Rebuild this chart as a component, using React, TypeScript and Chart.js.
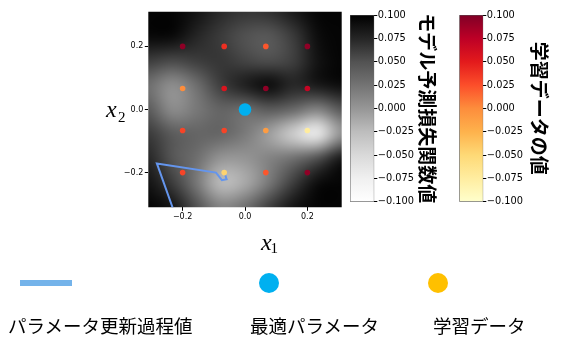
import React, { useEffect, useRef } from "react";
import { Chart, registerables } from "chart.js";

Chart.register(...registerables);

// ---------- data ----------
const axisTicks = [-0.2, 0.0, 0.2];
const colorbarTicks = [-0.1, -0.075, -0.05, -0.025, 0, 0.025, 0.05, 0.075, 0.1];

// loss surface grid (model prediction loss), rows from top (x2 = 0.31) to bottom (x2 = -0.31)
const heatX = [-0.31, -0.2325, -0.155, -0.0775, 0, 0.0775, 0.155, 0.2325, 0.31];
const heatY = [0.31, 0.2325, 0.155, 0.0775, 0, -0.0775, -0.155, -0.2325, -0.31];
const lossGrid = [
  [0.097, 0.097, 0.088, 0.073, 0.066, 0.069, 0.083, 0.097, 0.097],
  [0.095, 0.095, 0.075, 0.062, 0.049, 0.044, 0.062, 0.092, 0.097],
  [0.062, 0.055, 0.062, 0.066, 0.057, 0.051, 0.060, 0.088, 0.097],
  [0.027, 0.003, 0.027, 0.062, 0.082, 0.095, 0.075, 0.086, 0.093],
  [0.044, 0.005, 0.021, 0.036, 0.029, 0.044, 0.034, 0.012, 0.046],
  [0.064, 0.044, 0.036, 0.036, 0.021, -0.008, -0.046, -0.085, 0.0],
  [0.075, 0.046, 0.029, 0.0, 0.0, 0.014, 0.029, 0.053, 0.088],
  [0.088, 0.062, 0.021, -0.028, -0.015, 0.021, 0.062, 0.093, 0.097],
  [0.097, 0.088, 0.051, 0.014, 0.029, 0.062, 0.088, 0.097, 0.097],
];

// training data
const trainX = [-0.2, -0.0667, 0.0667, 0.2, -0.2, -0.0667, 0.0667, 0.2, -0.2, -0.0667, 0.0667, 0.2, -0.2, -0.0667, 0.0667, 0.2];
const trainY = [0.2, 0.2, 0.2, 0.2, 0.0667, 0.0667, 0.0667, 0.0667, -0.0667, -0.0667, -0.0667, -0.0667, -0.2, -0.2, -0.2, -0.2];
const trainV = [0.094, 0.04, 0.022, 0.094, 0.0, 0.056, 0.094, 0.07, 0.03, 0.03, -0.01, -0.074, 0.03, -0.046, 0.022, 0.094];

// optimal parameter
const optX = [0.0];
const optY = [0.0];

// parameter update path
const pathX = [-0.2, -0.2825, -0.093, -0.074, -0.059, -0.063];
const pathY = [-0.4, -0.171, -0.2, -0.224, -0.221, -0.209];

const legendLabels = ["パラメータ更新過程値", "最適パラメータ", "学習データ"];
const cbTitles = ["モデル予測損失関数値", "学習データの値"];

// ---------- colormaps ----------
const GREYS = ["#ffffff", "#f0f0f0", "#d9d9d9", "#bdbdbd", "#969696", "#737373", "#525252", "#252525", "#000000"];
const YLORRD = ["#ffffcc", "#ffeda0", "#fed976", "#feb24c", "#fd8d3c", "#fc4e2a", "#e31a1c", "#bd0026", "#800026"];
const VMIN = -0.1, VMAX = 0.1;

function hexToRgb(h: string) {
  return [parseInt(h.slice(1, 3), 16), parseInt(h.slice(3, 5), 16), parseInt(h.slice(5, 7), 16)];
}
function cmap(stops: string[], v: number) {
  let t = (v - VMIN) / (VMAX - VMIN);
  t = Math.max(0, Math.min(1, t));
  const p = t * (stops.length - 1);
  const i = Math.min(stops.length - 2, Math.floor(p));
  const f = p - i;
  const a = hexToRgb(stops[i]), b = hexToRgb(stops[i + 1]);
  return [0, 1, 2].map((k) => Math.round(a[k] + (b[k] - a[k]) * f));
}
const rgbStr = (c: number[]) => `rgb(${c[0]},${c[1]},${c[2]})`;

const minus = (s: string) => s.replace("-", "\u2212");
const fmt = (v: number, d: number) => (Math.abs(v) < 1e-9 ? (0).toFixed(d) : minus(v.toFixed(d)));

// ---------- plugins ----------
const heatmapPlugin = {
  id: "heatmap",
  beforeDatasetsDraw(chart: any) {
    const { ctx, chartArea, scales } = chart;
    const xs = scales.x, ys = scales.y;
    const nx = heatX.length, ny = heatY.length;
    const off = document.createElement("canvas");
    off.width = nx;
    off.height = ny;
    const octx = off.getContext("2d")!;
    const img = octx.createImageData(nx, ny);
    for (let j = 0; j < ny; j++) {
      for (let i = 0; i < nx; i++) {
        const c = cmap(GREYS, lossGrid[j][i]);
        const k = (j * nx + i) * 4;
        img.data[k] = c[0];
        img.data[k + 1] = c[1];
        img.data[k + 2] = c[2];
        img.data[k + 3] = 255;
      }
    }
    octx.putImageData(img, 0, 0);
    const hx = (heatX[1] - heatX[0]) / 2;
    const hy = (heatY[0] - heatY[1]) / 2;
    const l = xs.getPixelForValue(heatX[0] - hx);
    const r = xs.getPixelForValue(heatX[nx - 1] + hx);
    const t = ys.getPixelForValue(heatY[0] + hy);
    const b = ys.getPixelForValue(heatY[ny - 1] - hy);
    ctx.save();
    ctx.beginPath();
    ctx.rect(chartArea.left, chartArea.top, chartArea.right - chartArea.left, chartArea.bottom - chartArea.top);
    ctx.clip();
    ctx.imageSmoothingEnabled = true;
    (ctx as any).imageSmoothingQuality = "high";
    ctx.drawImage(off, l, t, r - l, b - t);
    ctx.restore();
  },
};

// ---------- layout constants ----------
const W = 570, H = 338;
const PLOT = { left: 148.3, right: 341.7, top: 11.7, bottom: 207.3 };
const CB_TOP = 15, CB_BOTTOM = 201.7;

function MainChart() {
  const ref = useRef<HTMLCanvasElement>(null);
  useEffect(() => {
    const tickFont = { family: "DejaVu Sans", size: 8 };
    const chart = new Chart(ref.current!, {
      type: "scatter",
      data: {
        datasets: [
          {
            type: "line",
            data: pathX.map((x, i) => ({ x, y: pathY[i] })),
            borderColor: "#6495ed",
            borderWidth: 2,
            pointRadius: 0,
            fill: false,
            tension: 0,
            clip: 0,
          } as any,
          {
            data: optX.map((x, i) => ({ x, y: optY[i] })),
            backgroundColor: "#00b0f0",
            borderWidth: 0,
            pointRadius: 6.3,
          },
          {
            data: trainX.map((x, i) => ({ x, y: trainY[i] })),
            backgroundColor: trainV.map((v) => rgbStr(cmap(YLORRD, v))),
            borderWidth: 0,
            pointRadius: 2.8,
          },
        ],
      },
      options: {
        responsive: false,
        animation: false,
        devicePixelRatio: 1,
        layout: {
          padding: { left: 0, right: W - PLOT.right, top: PLOT.top, bottom: 100 },
        },
        plugins: { legend: { display: false }, tooltip: { enabled: false } },
        scales: {
          x: {
            type: "linear",
            min: -0.31,
            max: 0.31,
            afterBuildTicks: (s: any) => {
              s.ticks = axisTicks.map((v) => ({ value: v }));
            },
            afterFit: (s: any) => {
              s.height = H - 100 - PLOT.bottom;
            },
            ticks: { font: tickFont, color: "#000", padding: 1, callback: (v: any) => fmt(Number(v), 1), maxRotation: 0 },
            grid: { drawOnChartArea: false, drawTicks: true, tickLength: 3.5, color: "#000" },
            border: { display: false },
          },
          y: {
            type: "linear",
            min: -0.31,
            max: 0.31,
            afterBuildTicks: (s: any) => {
              s.ticks = axisTicks.map((v) => ({ value: v }));
            },
            afterFit: (s: any) => {
              s.width = PLOT.left;
            },
            ticks: { font: tickFont, color: "#000", padding: 1.5, callback: (v: any) => fmt(Number(v), 1) },
            grid: { drawOnChartArea: false, drawTicks: true, tickLength: 3.5, color: "#000" },
            border: { display: false },
          },
        },
      },
      plugins: [heatmapPlugin],
    } as any);
    return () => chart.destroy();
  }, []);
  return <canvas ref={ref} width={W} height={H} style={{ position: "absolute", left: 0, top: 0 }} />;
}

function Colorbar(props: { stops: string[]; title: string; barLeft: number; barRight: number; titleX: number }) {
  const ref = useRef<HTMLCanvasElement>(null);
  useEffect(() => {
    const { stops, title, barLeft, barRight, titleX } = props;
    const titleSize = 19;
    const scaleRight = titleX + (titleSize * 1.2) / 2;
    const chart = new Chart(ref.current!, {
      type: "bar",
      data: {
        labels: [""],
        datasets: [
          {
            data: [[VMIN, VMAX]],
            backgroundColor: (c: any) => {
              const ca = c.chart.chartArea;
              if (!ca) return stops[0];
              const g = c.chart.ctx.createLinearGradient(0, ca.bottom, 0, ca.top);
              stops.forEach((s, i) => g.addColorStop(i / (stops.length - 1), s));
              return g;
            },
            borderColor: "#555",
            borderWidth: 0.8,
            borderSkipped: false,
            barPercentage: 1,
            categoryPercentage: 1,
          },
        ],
      },
      options: {
        responsive: false,
        animation: false,
        devicePixelRatio: 1,
        layout: { padding: { left: barLeft, right: W - scaleRight, top: CB_TOP, bottom: H - CB_BOTTOM } },
        plugins: { legend: { display: false }, tooltip: { enabled: false } },
        scales: {
          x: { display: false },
          y: {
            position: "right",
            min: VMIN,
            max: VMAX,
            afterBuildTicks: (s: any) => {
              s.ticks = colorbarTicks.map((v) => ({ value: v }));
            },
            afterFit: (s: any) => {
              s.width = scaleRight - barRight;
            },
            ticks: { font: { family: "DejaVu Sans", size: 9.8 }, color: "#000", padding: 0.5, callback: (v: any) => fmt(Number(v), 3) },
            grid: { drawOnChartArea: false, drawTicks: true, tickLength: 3, color: "#000" },
            border: { display: false },
            title: {
              display: true,
              text: title,
              color: "#000",
              padding: 0,
              font: { family: "Noto Sans CJK JP", size: titleSize, weight: "bold" },
            },
          },
        },
      },
    } as any);
    return () => chart.destroy();
  }, []);
  return <canvas ref={ref} width={W} height={H} style={{ position: "absolute", left: 0, top: 0 }} />;
}

const legendFont = { fontFamily: "'Noto Sans CJK JP', sans-serif", fontSize: 18.5, lineHeight: "18.5px", color: "#000" };
const mathFont = { fontFamily: "'Liberation Serif', serif", fontStyle: "italic", fontSize: 24, lineHeight: "24px" } as const;
const subFont = { fontFamily: "'Liberation Serif', serif", fontSize: 15, lineHeight: "15px" } as const;

export default function App() {
  return (
    <div style={{ position: "fixed", left: 0, top: 0, width: W, height: H, background: "#fff", overflow: "hidden" }}>
      <MainChart />
      <Colorbar stops={GREYS} title={cbTitles[0]} barLeft={350} barRight={374.3} titleX={427} />
      <Colorbar stops={YLORRD} title={cbTitles[1]} barLeft={459.3} barRight={483.3} titleX={539.5} />

      {/* axis labels */}
      <div style={{ position: "absolute", left: 106, top: 97, ...mathFont }}>x</div>
      <div style={{ position: "absolute", left: 118, top: 110, ...subFont }}>2</div>
      <div style={{ position: "absolute", left: 261, top: 230, ...mathFont }}>x</div>
      <div style={{ position: "absolute", left: 270.5, top: 240.5, ...subFont }}>1</div>

      {/* legend */}
      <div style={{ position: "absolute", left: 20, top: 279.7, width: 52, height: 6.7, background: "#74b3ea" }} />
      <div style={{ position: "absolute", left: 259, top: 273, width: 20, height: 20, borderRadius: 10, background: "#00b0f0" }} />
      <div style={{ position: "absolute", left: 428, top: 273, width: 20, height: 20, borderRadius: 10, background: "#ffc000" }} />
      <div style={{ position: "absolute", left: 8, top: 316, whiteSpace: "nowrap", ...legendFont }}>{legendLabels[0]}</div>
      <div style={{ position: "absolute", left: 250, top: 316, whiteSpace: "nowrap", ...legendFont }}>{legendLabels[1]}</div>
      <div style={{ position: "absolute", left: 433, top: 316, whiteSpace: "nowrap", ...legendFont }}>{legendLabels[2]}</div>
    </div>
  );
}
